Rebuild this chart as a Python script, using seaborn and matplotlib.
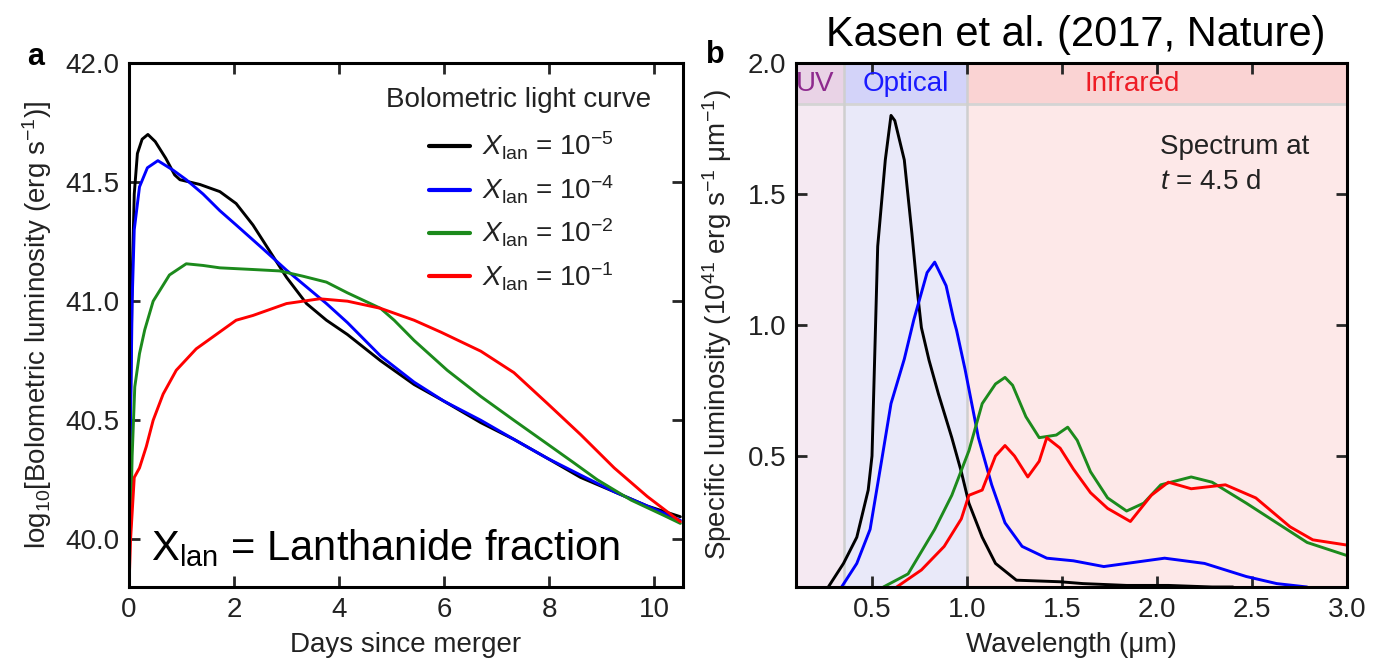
import numpy as np
import pandas as pd
import matplotlib
matplotlib.use("Agg")
import matplotlib.pyplot as plt
import seaborn as sns

# ---------------- data: panel a (bolometric light curves) ----------------
series_labels = [r"$X_{\rm lan}$ = 10$^{-5}$", r"$X_{\rm lan}$ = 10$^{-4}$",
                 r"$X_{\rm lan}$ = 10$^{-2}$", r"$X_{\rm lan}$ = 10$^{-1}$"]
series_colors = ["#000000", "#0000ff", "#1c8a1c", "#ff0000"]
legend_title = "Bolometric light curve"

t_e5 = [0.0, 0.03, 0.06, 0.1, 0.16, 0.25, 0.36, 0.5, 0.7, 0.87, 0.97, 1.35, 1.73, 2.04, 2.36,
        2.68, 3.0, 3.38, 3.76, 4.16, 4.79, 5.43, 6.0, 6.7, 7.33, 7.97, 8.6, 9.24, 9.87, 10.5]
L_e5 = [40.1, 40.6, 41.1, 41.45, 41.62, 41.68, 41.70, 41.67, 41.60, 41.53, 41.51, 41.49, 41.46,
        41.41, 41.32, 41.21, 41.10, 40.99, 40.92, 40.86, 40.75, 40.65, 40.58, 40.49, 40.42, 40.34,
        40.26, 40.20, 40.14, 40.095]

t_e4 = [0.0, 0.03, 0.06, 0.1, 0.2, 0.35, 0.55, 0.84, 1.09, 1.41, 1.73, 2.04, 2.55, 3.0, 3.38,
        3.76, 4.16, 4.79, 5.43, 6.0, 6.7, 7.33, 7.97, 8.6, 9.24, 9.87, 10.5]
L_e4 = [40.2, 40.5, 41.0, 41.3, 41.48, 41.56, 41.59, 41.55, 41.51, 41.45, 41.38, 41.32, 41.22,
        41.13, 41.06, 40.99, 40.91, 40.77, 40.66, 40.58, 40.50, 40.42, 40.34, 40.27, 40.20,
        40.14, 40.08]

t_e2 = [0.0, 0.03, 0.06, 0.11, 0.2, 0.3, 0.46, 0.77, 1.09, 1.41, 1.73, 2.36, 2.87, 3.31, 3.76,
        4.16, 4.79, 5.05, 5.43, 6.06, 6.7, 7.33, 7.97, 8.48, 8.92, 9.56, 10.19, 10.5]
L_e2 = [39.95, 40.05, 40.35, 40.64, 40.78, 40.88, 41.0, 41.11, 41.157, 41.15, 41.14, 41.133,
        41.127, 41.105, 41.08, 41.035, 40.97, 40.92, 40.835, 40.71, 40.60, 40.50, 40.40, 40.32,
        40.25, 40.165, 40.10, 40.067]

t_e1 = [0.0, 0.03, 0.1, 0.2, 0.33, 0.46, 0.65, 0.9, 1.28, 1.66, 2.04, 2.36, 3.0, 3.63, 4.16,
        4.79, 5.43, 5.94, 6.7, 7.33, 7.97, 8.6, 9.24, 9.87, 10.5]
L_e1 = [39.8, 40.0, 40.26, 40.30, 40.39, 40.5, 40.61, 40.71, 40.80, 40.86, 40.92, 40.94, 40.99,
        41.01, 41.0, 40.97, 40.92, 40.87, 40.79, 40.70, 40.57, 40.44, 40.30, 40.18, 40.074]

# ---------------- data: panel b (spectra at t = 4.5 d) ----------------
w_e5 = [0.27, 0.35, 0.42, 0.48, 0.50, 0.515, 0.53, 0.57, 0.60, 0.62, 0.67, 0.71, 0.74, 0.76,
        0.80, 0.85, 0.92, 0.97, 1.01, 1.08, 1.15, 1.26, 1.49, 1.61, 1.84, 2.06, 2.29, 2.4]
S_e5 = [0.0, 0.09, 0.19, 0.37, 0.50, 0.90, 1.30, 1.63, 1.80, 1.78, 1.63, 1.35, 1.12, 0.99,
        0.866, 0.736, 0.57, 0.44, 0.32, 0.19, 0.09, 0.026, 0.02, 0.013, 0.006, 0.006, 0.0, 0.0]

w_e4 = [0.34, 0.42, 0.49, 0.55, 0.60, 0.67, 0.72, 0.79, 0.83, 0.89, 0.93, 0.945, 0.99, 1.06,
        1.13, 1.20, 1.29, 1.42, 1.56, 1.72, 1.84, 2.04, 2.25, 2.47, 2.63, 2.79]
S_e4 = [0.0, 0.09, 0.22, 0.48, 0.70, 0.87, 1.02, 1.20, 1.24, 1.15, 1.02, 0.98, 0.83, 0.57,
        0.39, 0.245, 0.155, 0.11, 0.10, 0.078, 0.09, 0.11, 0.09, 0.04, 0.013, 0.0]

w_e2 = [0.56, 0.69, 0.83, 0.92, 1.01, 1.08, 1.15, 1.20, 1.24, 1.31, 1.38, 1.47, 1.53, 1.58,
        1.65, 1.74, 1.84, 1.93, 2.02, 2.18, 2.29, 2.47, 2.63, 2.79, 3.0]
S_e2 = [0.0, 0.05, 0.22, 0.35, 0.52, 0.70, 0.775, 0.80, 0.77, 0.65, 0.57, 0.58, 0.61, 0.56,
        0.44, 0.34, 0.29, 0.32, 0.39, 0.42, 0.40, 0.32, 0.245, 0.17, 0.12]

w_e1 = [0.63, 0.76, 0.88, 0.97, 1.01, 1.08, 1.15, 1.20, 1.25, 1.32, 1.38, 1.42, 1.49, 1.56,
        1.65, 1.74, 1.86, 1.97, 2.06, 2.18, 2.36, 2.52, 2.70, 2.82, 3.0]
S_e1 = [0.0, 0.065, 0.155, 0.26, 0.35, 0.37, 0.50, 0.54, 0.50, 0.42, 0.48, 0.57, 0.53, 0.45,
        0.36, 0.30, 0.25, 0.35, 0.40, 0.375, 0.39, 0.34, 0.23, 0.18, 0.16]

# wavelength bands
band_names = ["UV", "Optical", "Infrared"]
band_edges = [0.1, 0.35, 1.0, 3.0]
band_body = ["#f5e9f2", "#e9e9f9", "#fde8e8"]
band_head = ["#e9d3e6", "#d3d3f9", "#fad3d3"]
band_text = ["#8e2a8e", "#1a1aff", "#ee1c25"]

# ---------------- style ----------------
sns.set_theme(style="ticks")
plt.rcParams['font.family'] = ['Liberation Sans', 'DejaVu Sans']
plt.rcParams['mathtext.fontset'] = 'custom'
plt.rcParams['mathtext.rm'] = 'Liberation Sans'
plt.rcParams['mathtext.it'] = 'Liberation Sans:italic'
plt.rcParams['mathtext.bf'] = 'Liberation Sans:bold'
TXT = "#222222"
FS = 20
LW = 2.1

fig = plt.figure(figsize=(13.75, 6.6), dpi=100)
ax1 = fig.add_axes([129 / 1375, 73 / 660, 554 / 1375, 524 / 660])
ax2 = fig.add_axes([796 / 1375, 73 / 660, 551 / 1375, 524 / 660])

# ---------------- panel a ----------------
lc = pd.concat([
    pd.DataFrame({"day": t, "logL": L, "model": lab})
    for t, L, lab in zip([t_e5, t_e4, t_e2, t_e1], [L_e5, L_e4, L_e2, L_e1], series_labels)
])
pal = dict(zip(series_labels, series_colors))
sns.lineplot(data=lc, x="day", y="logL", hue="model", hue_order=series_labels, palette=pal,
             estimator=None, sort=False, lw=LW, ax=ax1, legend=False)
ax1.set_xlim(0, 10.55)
ax1.set_ylim(39.8, 42.0)
ax1.set_xticks([0, 2, 4, 6, 8, 10])
ax1.set_yticks([40.0, 40.5, 41.0, 41.5, 42.0])
ax1.set_yticklabels(["40.0", "40.5", "41.0", "41.5", "42.0"])
ax1.set_xlabel("Days since merger", fontsize=FS, color=TXT, labelpad=7)
ax1.set_ylabel(r"log$_{10}$[Bolometric luminosity (erg s$^{-1}$)]", fontsize=FS, color=TXT,
               labelpad=8)
ax1.text(0.704, 0.929, legend_title, transform=ax1.transAxes, fontsize=FS, color=TXT,
         ha="center", va="center")
handles = ax1.get_lines()[:4]
leg = ax1.legend(handles, series_labels, loc="upper right",
                 bbox_to_anchor=(0.875, 0.872), frameon=False, fontsize=FS,
                 handlelength=1.5, handletextpad=0.4, labelspacing=0.4, borderaxespad=0,
                 borderpad=0)
for t in leg.get_texts():
    t.set_color(TXT)
for h in leg.legend_handles:
    h.set_linewidth(3)
ax1.text(0.04, 0.075, r"X$_{\rm lan}$ = Lanthanide fraction", transform=ax1.transAxes,
         fontsize=30, color="black", ha="left", va="center")

# ---------------- panel b ----------------
for i in range(3):
    ax2.axvspan(band_edges[i], band_edges[i + 1], 0, 1.843 / 2.0, color=band_body[i], lw=0,
                zorder=0)
    ax2.axvspan(band_edges[i], band_edges[i + 1], 1.843 / 2.0, 1, color=band_head[i], lw=0,
                zorder=0)
ax2.axhline(1.843, color="#d4d4d4", lw=2, zorder=0.5)
for x in band_edges[1:3]:
    ax2.axvline(x, color="#cfcfcf", lw=1.8, zorder=0.5)
band_label_x = [0.2, 0.677, 1.87]
for name, xc, col in zip(band_names, band_label_x, band_text):
    ax2.text(xc, 1.92, name, color=col, fontsize=FS, ha="center", va="center")

sp = pd.concat([
    pd.DataFrame({"wl": w, "L": S, "model": lab})
    for w, S, lab in zip([w_e5, w_e4, w_e2, w_e1], [S_e5, S_e4, S_e2, S_e1], series_labels)
])
sns.lineplot(data=sp, x="wl", y="L", hue="model", hue_order=series_labels, palette=pal,
             estimator=None, sort=False, lw=LW, ax=ax2, legend=False, zorder=3)
ax2.set_xlim(0.1, 3.0)
ax2.set_ylim(0, 2.0)
ax2.set_xticks([0.5, 1.0, 1.5, 2.0, 2.5, 3.0])
ax2.set_xticklabels(["0.5", "1.0", "1.5", "2.0", "2.5", "3.0"])
ax2.set_yticks([0.5, 1.0, 1.5, 2.0])
ax2.set_yticklabels(["0.5", "1.0", "1.5", "2.0"])
ax2.set_xlabel("Wavelength (μm)", fontsize=FS, color=TXT, labelpad=7)
ax2.set_ylabel(r"Specific luminosity (10$^{41}$ erg s$^{-1}$ μm$^{-1}$)", fontsize=FS,
               color=TXT, labelpad=10)
ax2.text(2.016, 1.68, "Spectrum at", fontsize=FS, color=TXT, ha="left", va="center")
ax2.text(2.016, 1.545, r"$t$ = 4.5 d", fontsize=FS, color=TXT, ha="left", va="center")

for ax in (ax1, ax2):
    ax.tick_params(direction="in", length=8, width=2, top=True, right=True,
                   labelsize=FS, labelcolor=TXT, pad=7)
    for s in ax.spines.values():
        s.set_linewidth(2.2)
        s.set_color("black")
        s.set_visible(True)
        s.set_zorder(5)

fig.text(36 / 1375, 1 - 57 / 660, "a", fontsize=22, fontweight="bold", ha="center",
         va="center", color="black")
fig.text(715 / 1375, 1 - 55 / 660, "b", fontsize=22, fontweight="bold", ha="center",
         va="center", color="black")
fig.text(1076 / 1375, 1 - 35 / 660, "Kasen et al. (2017, Nature)", fontsize=30,
         ha="center", va="center", color="black")

fig.savefig("out.png", dpi=100)
